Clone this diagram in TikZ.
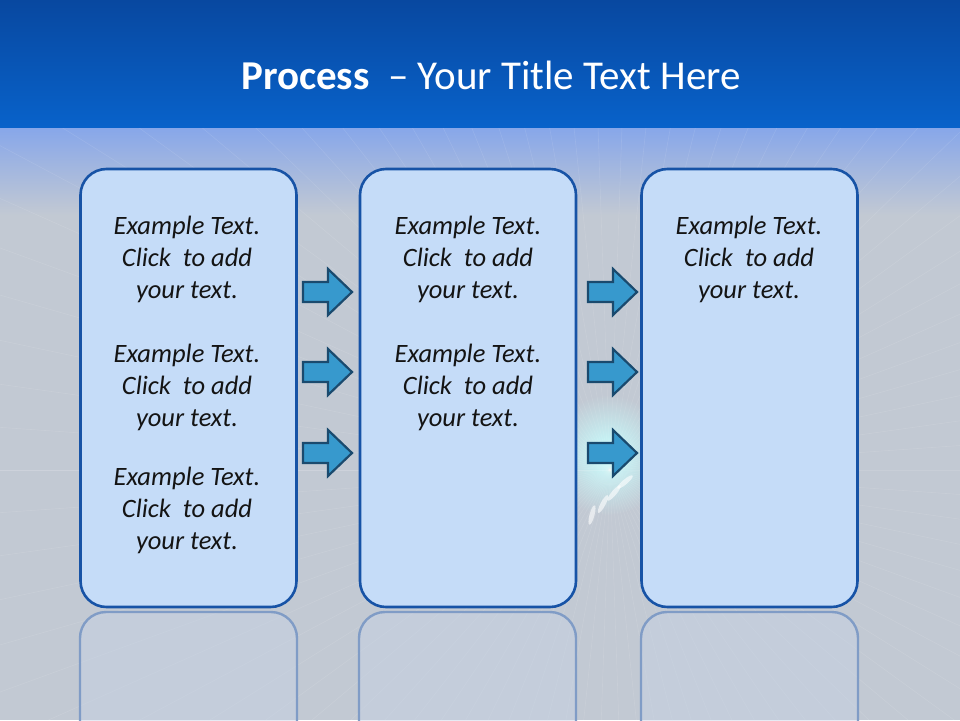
\documentclass[tikz,border=0pt]{standalone}
\usepackage{fontspec}
\setmainfont{Carlito}
\definecolor{bandtop}{HTML}{0848A0}
\definecolor{bandbot}{HTML}{0862CA}
\definecolor{bggray}{HTML}{C2C9D3}
\definecolor{bglight}{HTML}{86A6EA}
\definecolor{boxfill}{HTML}{C5DCF8}
\definecolor{boxline}{HTML}{1753A6}
\definecolor{reflline}{HTML}{809CC6}
\definecolor{reflfill}{HTML}{C7D3E6}
\definecolor{arrfill}{HTML}{3799CD}
\definecolor{arrline}{HTML}{1A4A6E}
\tikzset{
  stagebox/.style={draw=boxline, line width=2.6pt, fill=boxfill, rounded corners=26pt,
    minimum width=216pt, minimum height=438pt, inner sep=0pt},
  txt/.style={align=center, text=black!92, font=\fontsize{26.5}{32}\selectfont\itshape, inner sep=0pt},
  flowarrow/.style={draw=arrline, line width=2.2pt, fill=arrfill, line join=miter},
  refl/.style={draw=reflline, line width=2.4pt, fill=reflfill, fill opacity=0.45, rounded corners=26pt}
}
\newcommand{\stagetext}[4]{%
  \node[txt] (#1) at (#2,#3) {#4};}
\newcommand{\flowarr}[3]{%
  \draw[flowarrow] (#2,#3-10) -- (#2+25,#3-10) -- (#2+25,#3-23) -- (#2+49,#3)
    -- (#2+25,#3+23) -- (#2+25,#3+10) -- (#2,#3+10) -- cycle;}
\begin{document}
\begin{tikzpicture}[x=1pt,y=-1pt]
\useasboundingbox (0,0) rectangle (960,720);
% background
\fill[bggray] (0,0) rectangle (960,720);
\shade[top color=bglight, bottom color=bggray] (0,126) rectangle (960,215);
\shade[inner color=cyan!22!white, outer color=bggray] (608,455) circle (60pt);
\begin{scope}
\clip (0,126) rectangle (960,720);
\foreach \a in {-180,-176,...,180}{
  \draw[white, opacity=0.10, line width=0.6pt] (610,470) -- ++(\a:900pt);
}
\end{scope}
\foreach \i/\ang in {0/75,1/62,2/50,3/40}{
  \fill[white, opacity=0.6, rotate around={\ang:(592+\i*11,515-\i*11)}] (592+\i*11,515-\i*11) ellipse (10pt and 2.5pt);
}
\shade[top color=bandtop, bottom color=bandbot] (0,0) rectangle (960,127);
% title
\node[text=white, inner sep=0pt] (title) at (491,75)
  {\fontsize{41}{46}\selectfont\textbf{Process}\ \ – Your Title Text Here};
% reflections
\foreach \x in {80,359,641}{
  \draw[refl] (\x,760) -- (\x,612) -- (\x+217,612) -- (\x+217,760);
}
% boxes
\node[stagebox] (b1) at (188.5,388) {};
\node[stagebox] (b2) at (468,388) {};
\node[stagebox] (b3) at (749.5,388) {};
% texts
\stagetext{t11}{187}{259}{Example Text.\\Click~ to add\\your text.}
\stagetext{t12}{187}{387}{Example Text.\\Click~ to add\\your text.}
\stagetext{t13}{187}{510}{Example Text.\\Click~ to add\\your text.}
\stagetext{t21}{468}{259}{Example Text.\\Click~ to add\\your text.}
\stagetext{t22}{468}{387}{Example Text.\\Click~ to add\\your text.}
\stagetext{t31}{749}{259}{Example Text.\\Click~ to add\\your text.}
% arrows
\flowarr{a11}{303}{292}
\flowarr{a12}{303}{372}
\flowarr{a13}{303}{453}
\flowarr{a21}{588}{292}
\flowarr{a22}{588}{372}
\flowarr{a23}{588}{453}
\end{tikzpicture}
\end{document}
